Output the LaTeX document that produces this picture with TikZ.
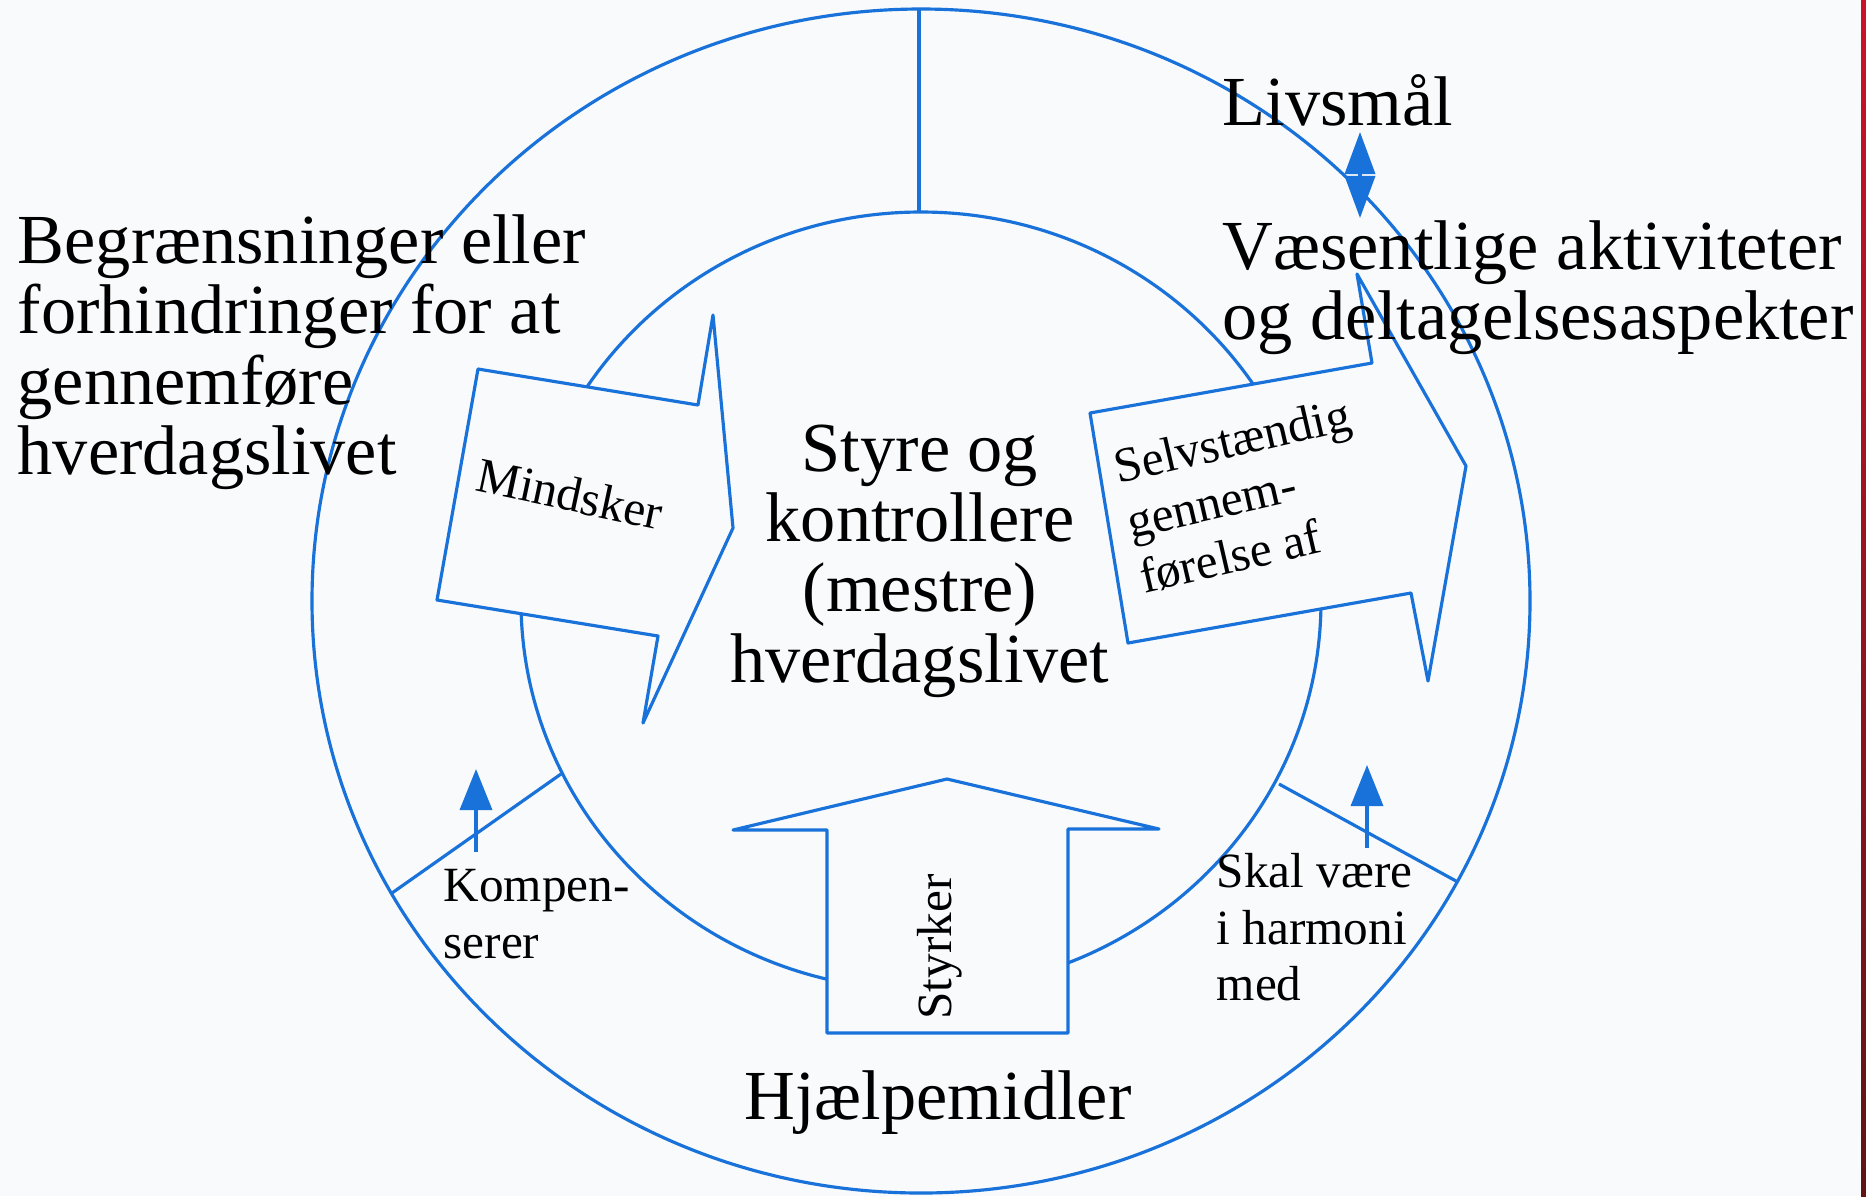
\documentclass[tikz,border=0pt]{standalone}
\usepackage{fontspec}
\setmainfont{Liberation Serif}
\usepackage{tikz}
\usetikzlibrary{arrows.meta}
\definecolor{ringblue}{RGB}{24,114,218}
\definecolor{paper}{RGB}{249,250,251}
\definecolor{edgetop}{RGB}{205,18,40}
\definecolor{edgebot}{RGB}{95,20,22}

\begin{document}
\begin{tikzpicture}[x=0.01cm,y=-0.01cm,line join=round,
  ring/.style={draw=ringblue,line width=0.9pt},
  bigarrow/.style={ring,fill=paper},
  bigtext/.style={inner sep=0pt,font=\fontsize{20}{20}\selectfont},
  smalltext/.style={inner sep=0pt,font=\fontsize{14}{16}\selectfont},
  pointer/.style={ringblue,line width=1pt,-{Triangle[length=4.1mm,width=3.2mm]}}]
\fill[paper](0,0) rectangle (1866,1196);
\useasboundingbox (0,0) rectangle (1866,1196);
\shade[top color=edgetop,bottom color=edgebot](1861,0) rectangle (1866,1196);
\draw[ring](921,601) ellipse [x radius=609,y radius=592];
\draw[ring](921,601) ellipse [x radius=400,y radius=389];
\draw[ring](919,10)--(919,212);
\draw[ring](392,893)--(561,774);
\draw[ring](1279,784)--(1456,881);
\filldraw[bigarrow](478,369)--(698,405)--(713,315)--(733,528)--(643,723)--(658,636)--(437,600)--cycle;
\filldraw[bigarrow](1090,413)--(1372,363)--(1357,274)--(1466,466)--(1428,681)--(1411,593)--(1128,643)--cycle;
\filldraw[bigarrow](947,779)--(1159,829)--(1068,829)--(1068,1033)--(827,1033)--(827,830)--(733,830)--cycle;

\node[bigtext,anchor=north west,align=left](limits) at (17,214) {Begrænsninger eller\\forhindringer for at\\gennemføre\\hverdagslivet};
\node[bigtext,anchor=base west](goal) at (1222,125) {Livsmål};
\node[bigtext,anchor=north west,align=left](essential) at (1222,220) {Væsentlige aktiviteter\\og deltagelsesaspekter};
\node[bigtext,anchor=north,align=center](master) at (920,424) {Styre og\\kontrollere\\(mestre)\\hverdagslivet};
\node[bigtext,anchor=base](aids) at (938,1119) {Hjælpemidler};
\node[smalltext,rotate=-12](reduce) at (570,494) {Mindsker};
\node[smalltext,rotate=13,align=left](selfdo) at (1245,496) {Selvstændig\\gennem-\\førelse af};
\node[smalltext,rotate=90](strengthen) at (940,947) {Styrker};
\node[smalltext,anchor=north west,align=left](compensate) at (443,869) {Kompen-\\serer};
\node[smalltext,anchor=north west,align=left](harmony) at (1216,853) {Skal være\\i harmoni\\med};

\coordinate (goalA) at (1360,132);
\coordinate (goalB) at (1360,218);
\draw[ringblue,line width=1pt,{Triangle[length=4.2mm,width=3mm]}-{Triangle[length=4.2mm,width=3mm]}](goalA)--(goalB);
\coordinate (compA) at (476,852);
\coordinate (compB) at (476,769);
\draw[pointer](compA)--(compB);
\coordinate (harmA) at (1367,848);
\coordinate (harmB) at (1367,765);
\draw[pointer](harmA)--(harmB);
\end{tikzpicture}
\end{document}
